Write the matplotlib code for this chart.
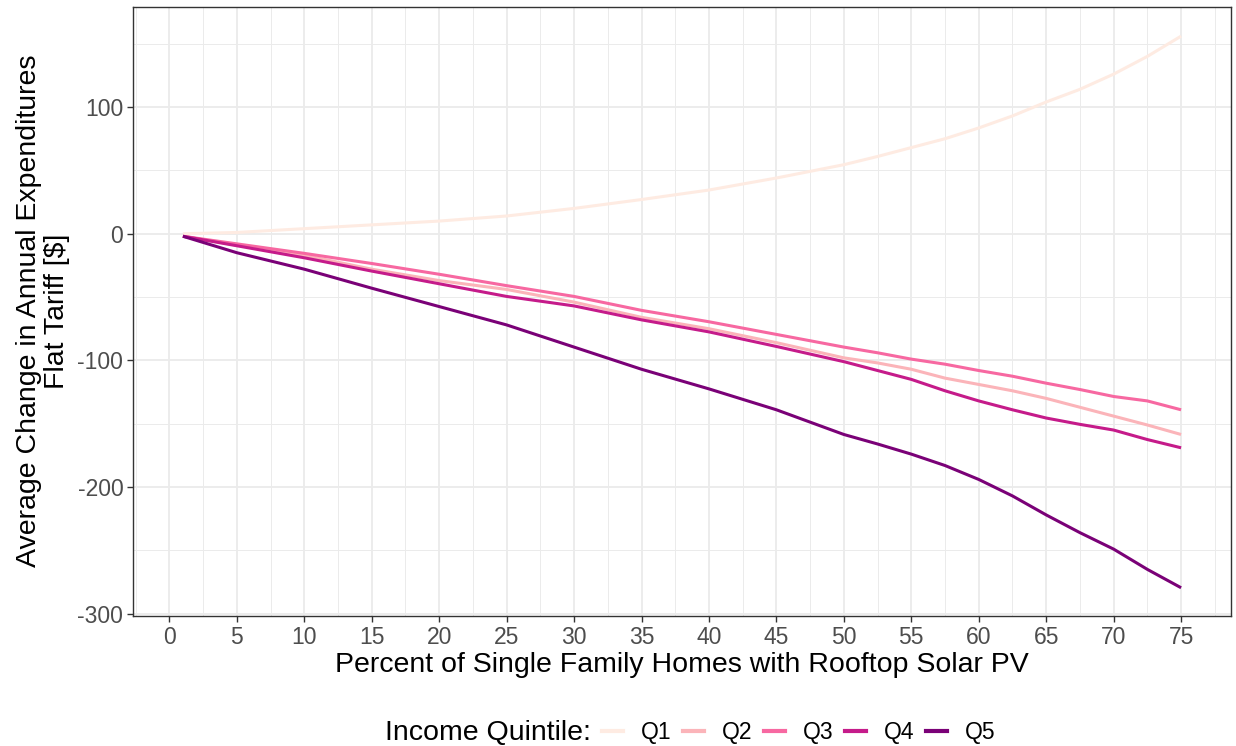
import matplotlib
matplotlib.use("Agg")
import matplotlib.pyplot as plt
from matplotlib.lines import Line2D
from matplotlib.ticker import MultipleLocator

plt.rcParams["font.family"] = ["Liberation Sans", "DejaVu Sans"]
plt.rcParams["axes.unicode_minus"] = False

# percent of single family homes with rooftop PV
pct = [1, 5, 10, 15, 20, 25, 30, 35, 40, 45, 50, 52.5, 55, 57.5, 60, 62.5, 65, 67.5, 70, 72.5, 75]

# average change in annual expenditures ($), flat tariff, by income quintile
q1 = [0, 1, 4, 7, 10, 14, 20, 27, 34.5, 44, 54.5, 61, 68, 75, 83.5, 93, 104, 114, 126, 140, 156]
q2 = [-2, -9, -17, -28, -37, -44, -54, -66, -75, -86, -98, -102, -107, -114, -119, -124, -130, -137, -144, -151, -158.5]
q3 = [-2, -8, -15.5, -23.5, -32, -41, -49.5, -60.5, -69.5, -79.5, -89.5, -94, -99, -103, -108, -112.5, -118, -123, -128.5, -132, -139]
q4 = [-2, -9.5, -19, -29.5, -39.5, -49.5, -57, -68, -77.5, -89, -101, -108, -115, -124, -132, -139, -145.5, -150.5, -155, -162.5, -169]
q5 = [-2, -15, -28, -43, -57.5, -72, -89.5, -107, -122.5, -139, -158.5, -166, -174, -183, -194, -207, -222, -236, -249, -265, -279.5]

series = [q1, q2, q3, q4, q5]
labels = ["Q1", "Q2", "Q3", "Q4", "Q5"]
colors = ["#FEEBE2", "#FBB4B9", "#F768A1", "#C51B8A", "#7A0177"]

fig = plt.figure(figsize=(12.36, 7.46), dpi=100)
ax = fig.add_axes([133 / 1236, 1 - 616 / 746, 1098 / 1236, 609 / 746])

for vals, lab, col in zip(series, labels, colors):
    ax.plot(pct, vals, color=col, lw=2.2, label=lab, solid_capstyle="butt", zorder=3)

ax.set_xlim(-2.7, 78.7)
ax.set_ylim(-301.8, 179.0)
ax.xaxis.set_major_locator(MultipleLocator(5))
ax.xaxis.set_minor_locator(MultipleLocator(2.5))
ax.yaxis.set_major_locator(MultipleLocator(100))
ax.yaxis.set_minor_locator(MultipleLocator(50))

# theme_bw look
ax.grid(which="major", color="#EBEBEB", lw=1.3, zorder=0)
ax.grid(which="minor", color="#EBEBEB", lw=0.7, zorder=0)
ax.set_axisbelow(True)
for sp in ax.spines.values():
    sp.set_color("#333333")
    sp.set_linewidth(1.0)
ax.tick_params(which="major", length=4, width=1.0, color="#333333",
               labelcolor="#4D4D4D", labelsize=16.5, pad=3)
ax.tick_params(which="minor", length=0)

ax.set_xlabel("Percent of Single Family Homes with Rooftop Solar PV", fontsize=20.5, labelpad=2)

# two-line y title, each line placed on its own
ymid = 1 - 311 / 746
fig.text(29 / 1236, ymid, "Average Change in Annual Expenditures", fontsize=20.5,
         rotation=90, ha="center", va="center")
fig.text(57 / 1236, ymid, "Flat Tariff [$]", fontsize=20.5,
         rotation=90, ha="center", va="center")

# legend along the bottom with the title on the left
fig.text(385 / 1236, 1 - 733 / 746, "Income Quintile:", fontsize=20.5, ha="left", va="center")
handles = [Line2D([], [], color=c, lw=3) for c in colors]
fig.legend(handles, labels, loc="center left", bbox_to_anchor=(602 / 1236, 1 - 733 / 746),
           ncol=5, frameon=False, fontsize=16.5, handlelength=0.9, handletextpad=0.8,
           columnspacing=0.5, borderpad=0, borderaxespad=0)

fig.savefig("out.png", dpi=100)
